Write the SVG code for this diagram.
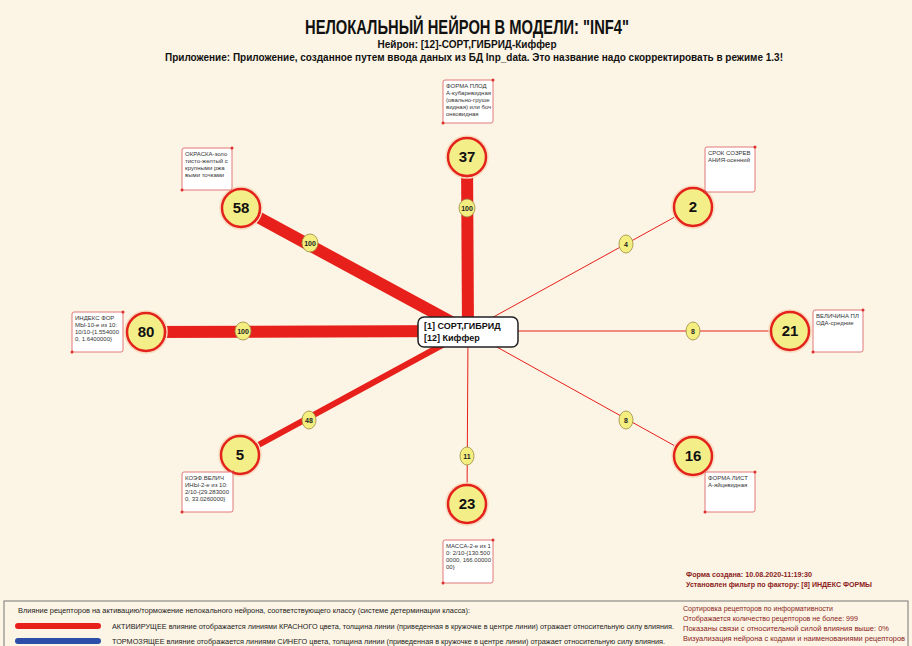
<svg xmlns="http://www.w3.org/2000/svg" width="912" height="646" viewBox="0 0 912 646">
<style>
.t{font-family:"Liberation Sans",Arial,sans-serif;fill:#111}
.lbl rect{fill:#fff;stroke:#e07878;stroke-width:1}
.lbl circle{fill:#e03030}
.lbl text{font-family:"Liberation Sans",Arial,sans-serif;font-size:6px;fill:#333}
.nc{fill:#f4ee88;stroke:#e4221c;stroke-width:2.5}
.halo{fill:none;stroke:#f8dcc0;stroke-width:1.5}
.nt{font-family:"Liberation Sans",Arial,sans-serif;font-size:15px;font-weight:bold;fill:#111;text-anchor:middle}
.wc{fill:#f4ee80;stroke:#9a8a40;stroke-width:0.8}
.wt{font-family:"Liberation Sans",Arial,sans-serif;font-size:7px;font-weight:bold;fill:#222;text-anchor:middle}
.ln{stroke:#e8201c;fill:none}
.ft{font-family:"Liberation Sans",Arial,sans-serif;font-size:8px;font-weight:bold;fill:#8a1c1c}
.rt{font-family:"Liberation Sans",Arial,sans-serif;font-size:7px;fill:#8a1c1c}
.bt{font-family:"Liberation Sans",Arial,sans-serif;font-size:7.5px;fill:#222}
</style>
<rect width="912" height="646" fill="#fcf4e4"/>
<g id="title">
<text class="t" x="467" y="34" text-anchor="middle" font-size="20" font-weight="bold" textLength="324" lengthAdjust="spacingAndGlyphs">НЕЛОКАЛЬНЫЙ НЕЙРОН В МОДЕЛИ: "INF4"</text>
<text class="t" x="467" y="48" text-anchor="middle" font-size="11" font-weight="bold" textLength="179" lengthAdjust="spacingAndGlyphs">Нейрон: [12]-СОРТ,ГИБРИД-Киффер</text>
<text class="t" x="474" y="61" text-anchor="middle" font-size="11.5" font-weight="bold" textLength="618" lengthAdjust="spacingAndGlyphs">Приложение: Приложение, созданное путем ввода даных из БД Inp_data. Это название надо скорректировать в режиме 1.3!</text>
</g>
<g id="connectors">
<line class="ln" x1="468" y1="331" x2="467" y2="157" stroke-width="12"/>
<line class="ln" x1="468" y1="331" x2="241" y2="208" stroke-width="12"/>
<line class="ln" x1="468" y1="331" x2="146" y2="332" stroke-width="12"/>
<line class="ln" x1="468" y1="331" x2="240" y2="455" stroke-width="6"/>
<line class="ln" x1="468" y1="331" x2="693" y2="207" stroke-width="1"/>
<line class="ln" x1="468" y1="331" x2="790" y2="331" stroke-width="1"/>
<line class="ln" x1="468" y1="331" x2="693" y2="456" stroke-width="1"/>
<line class="ln" x1="468" y1="331" x2="467" y2="504" stroke-width="1"/>
<g id="weights">
<ellipse class="wc" cx="467" cy="208" rx="8" ry="9"/><text class="wt" x="467" y="210.5">100</text>
<ellipse class="wc" cx="310" cy="243" rx="8" ry="9"/><text class="wt" x="310" y="245.5">100</text>
<ellipse class="wc" cx="243" cy="331" rx="8" ry="9"/><text class="wt" x="243" y="333.5">100</text>
<ellipse class="wc" cx="309" cy="420" rx="7" ry="9"/><text class="wt" x="309" y="422.5">48</text>
<ellipse class="wc" cx="626" cy="244" rx="7" ry="9"/><text class="wt" x="626" y="246.5">4</text>
<ellipse class="wc" cx="693" cy="331" rx="7" ry="9"/><text class="wt" x="693" y="333.5">8</text>
<ellipse class="wc" cx="626" cy="420" rx="7" ry="9"/><text class="wt" x="626" y="422.5">8</text>
<ellipse class="wc" cx="467" cy="456" rx="7" ry="9"/><text class="wt" x="467" y="458.5">11</text>
</g>
</g>
<g id="center">
<rect x="418" y="317" width="100" height="30" rx="6" fill="#fff" stroke="#222" stroke-width="1.5"/>
<text class="t" x="424" y="329" font-size="9" font-weight="bold">[1] СОРТ,ГИБРИД</text>
<text class="t" x="424" y="341" font-size="9" font-weight="bold">[12] Киффер</text>
</g>
<g id="n37">
<circle class="halo" cx="467" cy="157" r="21"/><circle class="nc" cx="467" cy="157" r="19"/><text class="nt" x="467" y="162">37</text>
<g class="lbl"><rect x="443" y="80" width="50" height="43" rx="2"/><circle cx="493" cy="80" r="1.5"/><circle cx="443" cy="123" r="1.5"/>
<text x="446" y="88">ФОРМА ПЛОД</text><text x="446" y="95">А-кубаревидная</text><text x="446" y="102">(овально-груше</text><text x="446" y="109">видная) или боч</text><text x="446" y="116">онковидная</text></g>
</g>
<g id="n58">
<circle class="halo" cx="241" cy="208" r="21"/><circle class="nc" cx="241" cy="208" r="19"/><text class="nt" x="241" y="213">58</text>
<g class="lbl"><rect x="182" y="148" width="50" height="42" rx="2"/><circle cx="232" cy="148" r="1.5"/><circle cx="182" cy="190" r="1.5"/>
<text x="185" y="156">ОКРАСКА-золо</text><text x="185" y="163">тисто-желтый с</text><text x="185" y="170">крупными ржа</text><text x="185" y="177">выми точками</text></g>
</g>
<g id="n2">
<circle class="halo" cx="693" cy="207" r="21"/><circle class="nc" cx="693" cy="207" r="19"/><text class="nt" x="693" y="212">2</text>
<g class="lbl"><rect x="705" y="147" width="50" height="45" rx="2"/><circle cx="755" cy="147" r="1.5"/><circle cx="705" cy="192" r="1.5"/>
<text x="708" y="155">СРОК СОЗРЕВ</text><text x="708" y="162">АНИЯ-осенний</text></g>
</g>
<g id="n80">
<circle class="halo" cx="146" cy="332" r="21"/><circle class="nc" cx="146" cy="332" r="19"/><text class="nt" x="146" y="337">80</text>
<g class="lbl"><rect x="72" y="312" width="51" height="40" rx="2"/><circle cx="123" cy="312" r="1.5"/><circle cx="72" cy="352" r="1.5"/>
<text x="75" y="320">ИНДЕКС ФОР</text><text x="75" y="327">МЫ-10-е из 10:</text><text x="75" y="334">10/10-{1.554000</text><text x="75" y="341">0, 1.6400000}</text></g>
</g>
<g id="n21">
<circle class="halo" cx="790" cy="331" r="21"/><circle class="nc" cx="790" cy="331" r="19"/><text class="nt" x="790" y="336">21</text>
<g class="lbl"><rect x="813" y="310" width="50" height="42" rx="2"/><circle cx="863" cy="310" r="1.5"/><circle cx="813" cy="352" r="1.5"/>
<text x="816" y="318">ВЕЛИЧИНА ПЛ</text><text x="816" y="325">ОДА-средние</text></g>
</g>
<g id="n5">
<circle class="halo" cx="240" cy="455" r="21"/><circle class="nc" cx="240" cy="455" r="19"/><text class="nt" x="240" y="460">5</text>
<g class="lbl"><rect x="182" y="472" width="51" height="40" rx="2"/><circle cx="233" cy="472" r="1.5"/><circle cx="182" cy="512" r="1.5"/>
<text x="185" y="480">КОЭФ.ВЕЛИЧ</text><text x="185" y="487">ИНЫ-2-е из 10:</text><text x="185" y="494">2/10-{29.283000</text><text x="185" y="501">0, 33.0260000}</text></g>
</g>
<g id="n23">
<circle class="halo" cx="467" cy="504" r="21"/><circle class="nc" cx="467" cy="504" r="19"/><text class="nt" x="467" y="509">23</text>
<g class="lbl"><rect x="443" y="540" width="50" height="43" rx="2"/><circle cx="493" cy="540" r="1.5"/><circle cx="443" cy="583" r="1.5"/>
<text x="446" y="548">МАССА-2-е из 1</text><text x="446" y="555">0: 2/10-{130.500</text><text x="446" y="562">0000, 166.00000</text><text x="446" y="569">00}</text></g>
</g>
<g id="n16">
<circle class="halo" cx="693" cy="456" r="21"/><circle class="nc" cx="693" cy="456" r="19"/><text class="nt" x="693" y="461">16</text>
<g class="lbl"><rect x="705" y="472" width="50" height="40" rx="2"/><circle cx="755" cy="472" r="1.5"/><circle cx="705" cy="512" r="1.5"/>
<text x="708" y="480">ФОРМА ЛИСТ</text><text x="708" y="487">А-яйцевидная</text></g>
</g>
<g id="info">
<text class="ft" x="686" y="577" textLength="126" lengthAdjust="spacingAndGlyphs">Форма создана: 10.08.2020-11:19:30</text>
<text class="ft" x="686" y="587" textLength="186" lengthAdjust="spacingAndGlyphs">Установлен фильтр по фактору: [8] ИНДЕКС ФОРМЫ</text>
</g>
<g id="legend">
<rect x="4" y="601" width="904" height="50" fill="none" stroke="#777" stroke-width="1"/>
<text class="bt" x="18" y="613" textLength="452" lengthAdjust="spacingAndGlyphs">Влияние рецепторов на активацию/торможение нелокального нейрона, соответствующего классу (системе детерминации класса):</text>
<line x1="18" y1="626" x2="98" y2="626" stroke="#e8201c" stroke-width="6" stroke-linecap="round"/>
<text class="bt" x="112" y="629" textLength="562" lengthAdjust="spacingAndGlyphs">АКТИВИРУЩЕЕ влияние отображается линиями КРАСНОГО цвета, толщина линии (приведенная в кружочке в центре линии) отражает относительную силу влияния.</text>
<line x1="18" y1="641" x2="98" y2="641" stroke="#2c4ea8" stroke-width="6" stroke-linecap="round"/>
<text class="bt" x="112" y="644" textLength="553" lengthAdjust="spacingAndGlyphs">ТОРМОЗЯЩЕЕ влияние отображается линиями СИНЕГО цвета, толщина линии (приведенная в кружочке в центре линии) отражает относительную силу влияния.</text>
<text class="rt" x="683" y="611" textLength="150" lengthAdjust="spacingAndGlyphs">Сортировка рецепторов по информативности</text>
<text class="rt" x="683" y="621" textLength="175" lengthAdjust="spacingAndGlyphs">Отображается количество рецепторов не более: 999</text>
<text class="rt" x="683" y="631" textLength="206" lengthAdjust="spacingAndGlyphs">Показаны связи с относительной силой влияния выше: 0%</text>
<text class="rt" x="683" y="641" textLength="222" lengthAdjust="spacingAndGlyphs">Визуализация нейрона с кодами и наименованиями рецепторов</text>
</g>
</svg>
